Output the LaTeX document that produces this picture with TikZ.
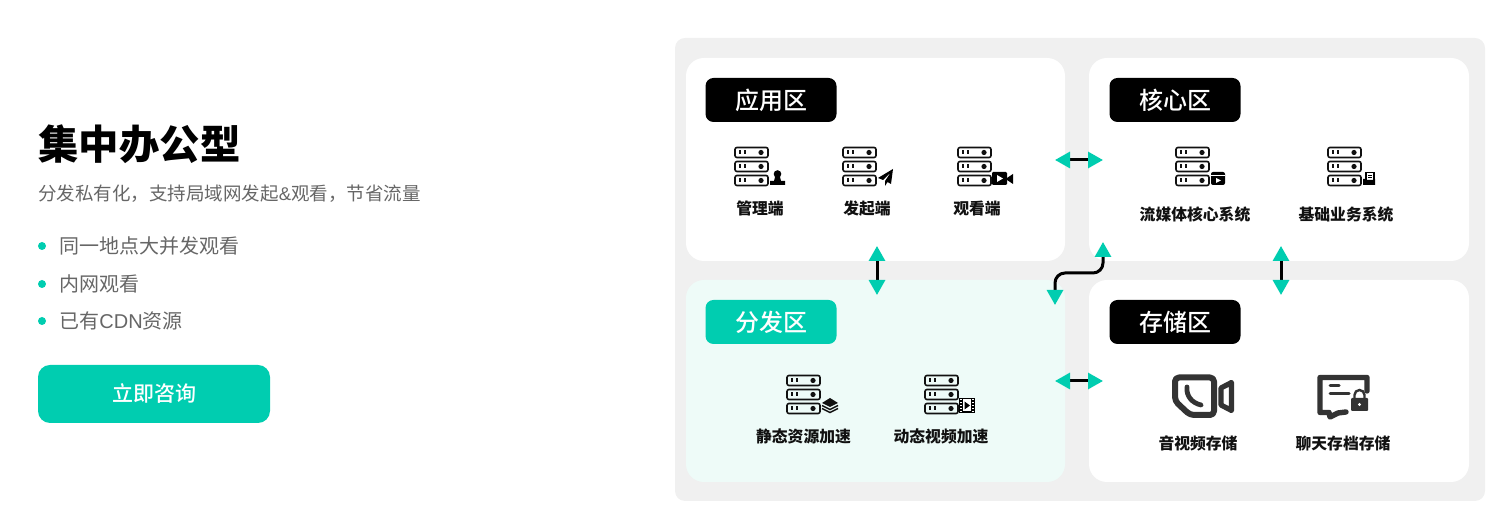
\documentclass[tikz,border=0pt]{standalone}
\usepackage{fontspec}
\setmainfont{Noto Sans CJK SC}
\newfontfamily\latinfont{Liberation Sans}
\newfontfamily\mediumfont{Noto Sans CJK SC Medium}
\usetikzlibrary{arrows.meta}
\definecolor{brandteal}{HTML}{00CDB0}
\definecolor{panelgray}{HTML}{F0F0F0}
\definecolor{palemint}{HTML}{EEFBF8}
\definecolor{bodygray}{HTML}{666666}
\definecolor{icondark}{HTML}{111111}
\definecolor{storedark}{HTML}{333333}
\tikzset{
  panel/.style={fill=white, rounded corners=9pt, inner sep=0pt},
  badge/.style={fill=black, text=white, rounded corners=4pt, inner sep=0pt,
    minimum width=65.5pt, minimum height=22pt, font=\fontsize{12}{12}\selectfont\mediumfont},
  caption/.style={inner sep=0pt, text=icondark, font=\fontsize{7.9}{8}\selectfont\bfseries},
  bodytext/.style={anchor=west, inner sep=0pt, text=bodygray},
  link/.style={line width=1.5pt, {Triangle[length=7.5pt,width=8pt,color=brandteal]}-{Triangle[length=7.5pt,width=8pt,color=brandteal]}},
  serverstack/.pic={
    \foreach \row in {0,14,28} {
      \draw[line width=0.8pt, icondark, rounded corners=1pt] (0,\row) rectangle (33,10+\row);
      \draw[line width=1pt, icondark] (5,3+\row) -- (5,7+\row) (10,3+\row) -- (10,7+\row);
      \fill[icondark] (26,5+\row) circle (1.3pt);
    }
  },
  personmark/.pic={
    \fill[black] (7.5,4) circle (1.9pt);
    \fill[black] (5,7) -- (10,7) -- (11,11) -- (15,11) -- (15,15) -- (0,15) -- (0,11) -- (4,11) -- cycle;
  },
  planemark/.pic={
    \fill[black] (15,0) -- (0,9) -- (5,11) -- (13,3) -- (7,12) -- (7,17) -- (9.5,13) -- (13,15) -- cycle;
  },
  cameramark/.pic={
    \fill[black, rounded corners=0.6pt] (0,0) rectangle (15,13);
    \fill[black] (15,6) -- (21,2) -- (21,12) -- (15,8) -- cycle;
    \fill[white] (5,3) -- (11,6.5) -- (5,10) -- cycle;
  },
  mediamark/.pic={
    \fill[black, rounded corners=1pt] (0,0) rectangle (14,13);
    \draw[white, line width=0.4pt] (0,3.5) -- (14,3.5);
    \fill[white] (5,6) -- (10,8.5) -- (5,11) -- cycle;
  },
  foldermark/.pic={
    \draw[black, line width=0.6pt, fill=white] (3,0.5) rectangle (11,9);
    \draw[black, line width=0.4pt] (5,3) -- (9,3) (5,5) -- (9,5);
    \fill[black] (0,7) -- (3,7) -- (3,8) -- (11,8) -- (11,7) -- (12,7) -- (12,13) -- (0,13) -- cycle;
  },
  layermark/.pic={
    \fill[icondark] (8,0) -- (16,5) -- (8,9) -- (0,5) -- cycle;
    \draw[icondark, line width=0.7pt] (0,7.5) -- (8,11.5) -- (16,7.5);
    \draw[icondark, line width=0.7pt] (0,10.5) -- (8,14.5) -- (16,10.5);
  },
  filmmark/.pic={
    \fill[black] (0,0) rectangle (16,15);
    \fill[white] (4,1.5) rectangle (12,13.5);
    \fill[black] (5.5,3.5) -- (11,7.5) -- (5.5,11.5) -- cycle;
    \foreach \hole in {1.5,4.5,7.5,10.5,13.5} {
      \fill[white] (1,\hole-0.7) rectangle (3,\hole+0.7);
      \fill[white] (13,\hole-0.7) rectangle (15,\hole+0.7);
    }
  },
}
\begin{document}
\begin{tikzpicture}[x=0.5pt, y=-0.5pt]
  \useasboundingbox (0,0) rectangle (1500,522);
  % Left column
  \node[anchor=west, inner sep=0pt, text=black, font=\fontsize{20.2}{20}\selectfont\bfseries] (title) at (38,144) {集中办公型};
  \node[bodytext, font=\fontsize{9.25}{10}\selectfont] (subtitle) at (38,194) {分发私有化，支持局域网发起{\latinfont\&}观看，节省流量};
  \node[bodytext, font=\fontsize{10}{10}\selectfont] (pointA) at (59,246) {同一地点大并发观看};
  \node[bodytext, font=\fontsize{10}{10}\selectfont] (pointB) at (59,284) {内网观看};
  \node[bodytext, font=\fontsize{10}{10}\selectfont] (pointC) at (59,321) {已有{\latinfont CDN}资源};
  \foreach \ypos in {246,284,321} {
    \fill[brandteal] (42,\ypos) circle (2pt);
  }
  \node[fill=brandteal, text=white, rounded corners=6pt, inner sep=0pt, minimum width=116pt, minimum height=29pt,
    font=\fontsize{10.5}{10}\selectfont\mediumfont] (consult) at (154,394) {立即咨询};
  % Panels
  \fill[panelgray, rounded corners=5pt] (675,38) rectangle (1485,501);
  \node[panel, minimum width=189.5pt, minimum height=101.5pt] (appzone) at (875.5,159.5) {};
  \node[panel, minimum width=190pt, minimum height=101.5pt] (corezone) at (1279,159.5) {};
  \node[panel, fill=palemint, minimum width=189.5pt, minimum height=101pt] (cdnzone) at (875.5,381) {};
  \node[panel, minimum width=190pt, minimum height=101pt] (storezone) at (1279,381) {};
  % Badges
  \node[badge] (appbadge) at (771,100) {应用区};
  \node[badge] (corebadge) at (1175,100) {核心区};
  \node[badge, fill=brandteal] (cdnbadge) at (771,322) {分发区};
  \node[badge] (storebadge) at (1175,322) {存储区};
  % Server icons
  \pic at (735,147.5) {serverstack};
  \pic at (770,170) {personmark};
  \pic at (843,147.5) {serverstack};
  \pic at (878,169) {planemark};
  \pic at (958,147.5) {serverstack};
  \pic at (992,172) {cameramark};
  \pic at (1176,147.5) {serverstack};
  \pic at (1211,172) {mediamark};
  \pic at (1328,147.5) {serverstack};
  \pic at (1363,172) {foldermark};
  \pic at (787,375.5) {serverstack};
  \pic at (822,398) {layermark};
  \pic at (925,375.5) {serverstack};
  \pic at (959,398) {filmmark};
  % Storage icons
  \draw[storedark, line width=3pt, line join=round, rounded corners=2pt] (1190,415) -- (1175,401) -- (1175,377.5) -- (1214,377.5) -- (1214,415) -- cycle;
  \draw[storedark, line width=2.4pt, line cap=round] (1187,387) .. controls (1186,396) and (1192,403) .. (1201,405);
  \draw[storedark, line width=2.6pt, line join=round, fill=white] (1221,388) -- (1231.5,382.5) -- (1231.5,410.5) -- (1221,405) -- cycle;
  \draw[storedark, line width=2.7pt, line cap=round, line join=round] (1367,391) -- (1367,377.5) -- (1320,377.5) -- (1320,412.5) -- (1329,412.5) -- (1330,417) -- (1338,413) -- (1346,412);
  \draw[storedark, line width=1.5pt, line cap=round] (1330,386) -- (1339,386) (1330,394) -- (1349,394);
  \fill[storedark, rounded corners=0.5pt] (1351,398) rectangle (1368,411);
  \fill[white] (1359.5,404.5) circle (0.8pt);
  \draw[storedark, line width=1.2pt] (1354.5,398) -- (1354.5,395) arc[start angle=180, end angle=0, radius=2.5pt] -- (1364.5,398);
  % Captions
  \node[caption] (admin) at (760,208.5) {管理端};
  \node[caption] (publisher) at (867,208.5) {发起端};
  \node[caption] (viewer) at (977,208.5) {观看端};
  \node[caption] (coresys) at (1195,214) {流媒体核心系统};
  \node[caption] (bizsys) at (1346,214) {基础业务系统};
  \node[caption] (staticcdn) at (803.5,436) {静态资源加速};
  \node[caption] (dyncdn) at (941,436) {动态视频加速};
  \node[caption] (avstore) at (1198,443.5) {音视频存储};
  \node[caption] (chatstore) at (1343,443.5) {聊天存档存储};
  % Links
  \coordinate (appright) at (1055,160);
  \coordinate (coreleft) at (1103,160);
  \coordinate (cdnright) at (1055,381);
  \coordinate (storeleft) at (1103,381);
  \coordinate (appbottom) at (877,246);
  \coordinate (cdntop) at (877,295);
  \coordinate (corebottom) at (1281,246);
  \coordinate (storetop) at (1281,295);
  \coordinate (corecorner) at (1103,242);
  \coordinate (cdncorner) at (1055,305);
  \draw[link] (appright) -- (coreleft);
  \draw[link] (cdnright) -- (storeleft);
  \draw[link] (appbottom) -- (cdntop);
  \draw[link] (corebottom) -- (storetop);
  \draw[link, rounded corners=5pt] (corecorner) -- (1103,273) -- (1055,273) -- (cdncorner);
\end{tikzpicture}
\end{document}
